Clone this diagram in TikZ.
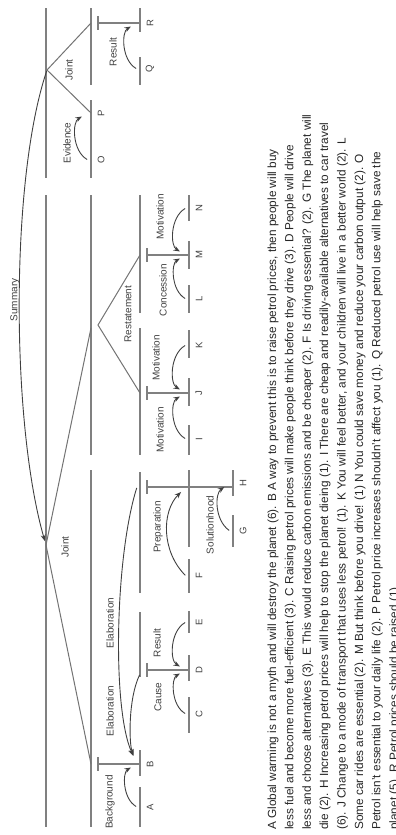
\documentclass[tikz,border=0pt]{standalone}
\usepackage{fontspec}
\setmainfont{Liberation Sans}
\usetikzlibrary{arrows.meta,calc}

\begin{document}
\begin{tikzpicture}[
			x=1pt,y=-1pt,
			spanline/.style={draw=black!50,line width=1.2pt},
			jointline/.style={draw=black!55,line width=1pt},
			relarc/.style={-{Stealth[length=6.5pt,width=5pt]},draw=black!75,line width=.9pt,shorten >=7pt,shorten <=1pt},
			rellabel/.style={rotate=90,inner sep=0pt,text=black!75,font=\fontsize{10}{10}\selectfont},
			leaflabel/.style={rotate=90,inner sep=0pt,text=black!75,font=\fontsize{9.5}{10}\selectfont},
			parline/.style={rotate=90,anchor=base west,inner sep=0pt,text=black!85,font=\fontsize{11.8}{14}\selectfont}
			]
			
			\useasboundingbox (0,0) rectangle (396,835);
			
			%------------------------------
			% Span lines
			%------------------------------
			\foreach \lx/\ya/\yb in {46/8/178, 46/195/827, 91/8/85, 91/195/455, 91/470/827,
				140/195/313, 140/328/455, 140/472/593, 140/612/677, 189/470/547}{
				\draw[spanline] (\lx,\ya) -- (\lx,\yb);
			}
			
			% Leaves: level / from / to / label / name
			\foreach \lx/\ya/\yb/\yl/\nm in {140/8/32/23/R, 140/57/85/69/Q, 91/100/137/113/P, 91/137/178/160/O,
				189/195/221/208/N, 189/241/269/255/M, 189/285/313/299/L, 189/330/358/345/K,
				189/378/406/393/J, 189/425/455/439/I, 233/470/496/483/H, 233/515/547/531/G,
				189/559/593/576/F, 189/611/633/622/E, 189/655/681/670/D, 189/697/733/714/C,
				140/750/776/764/B, 140/787/827/807/A}{
				\draw[spanline] (\lx,\ya) -- (\lx,\yb);
				\node[leaflabel] (leaf\nm) at (\lx+10,\yl) {\nm};
				\coordinate (p\nm) at (\lx-3,\yl);
			}
			
			% Nucleus markers
			\foreach \bx/\ex/\yy in {98/140/23, 98/140/764, 147/189/255, 147/189/393, 147/233/487, 147/189/670}{
				\draw[spanline] (\bx,\yy-7) -- (\bx,\yy+7);
				\draw[spanline] (\bx,\yy) -- (\ex,\yy);
			}
			
			%------------------------------
			% Multinuclear relations
			%------------------------------
			\coordinate (jointR) at (47,70);
			\coordinate (jointL) at (46,545);
			\coordinate (restate) at (98,325);
			\coordinate (nucR) at (91,23);
			\coordinate (nucP) at (91,113);
			\coordinate (nucIN) at (91,328);
			\coordinate (nucB) at (91,764);
			\coordinate (nucM) at (140,255);
			\coordinate (nucJ) at (140,393);
			
			\draw[jointline] (nucR) -- (jointR) -- (nucP);
			\draw[jointline] (nucIN) -- (jointL) -- (nucB);
			\draw[jointline] (nucM) -- (restate) -- (nucJ);
			
			%------------------------------
			% Satellite arcs
			%------------------------------
			\coordinate (pGH) at (186,487);
			\coordinate (topCE) at (140,674);
			\coordinate (topFH) at (137,487);
			
			\foreach \s/\n/\b in {Q/R/60, O/P/60, N/M/-60, L/M/60, K/J/-60, I/J/60, G/H/55, E/D/-60, C/D/60, A/B/60}{
				\draw[relarc] (p\s) to[bend left=\b] (p\n);
			}
			\draw[relarc] (pF) to[bend left=45] (pGH);
			\draw[relarc,shorten >=9pt] (topCE) .. controls +(-12,25) and +(-8,-20) .. (pB);
			\draw[relarc,shorten >=9pt] (topFH) .. controls +(-22,70) and +(-25,-55) .. (pB);
			\draw[relarc,shorten >=4pt] (jointR) .. controls +(-37,110) and +(-35,-122) .. (jointL);
			
			%------------------------------
			% Relation names
			%------------------------------
			\foreach \lx/\ly/\txt [count=\k] in {15/300/Summary, 69/70/Joint, 67/143/Evidence, 113/52/Result,
				160/217/Motivation, 163/290/Concession, 128/314/Restatement, 156/358/Motivation,
				160/430/Motivation, 158/527/Preparation, 210/525/Solutionhood, 65/547/Joint,
				110/623/Elaboration, 110/711/Elaboration, 110/802/Background, 158/697/Cause, 157/643/Result}{
				\node[rellabel] (rel\k) at (\lx,\ly) {\txt};
			}
			
			%------------------------------
			% Segment text
			%------------------------------
			\foreach \txt [count=\i] in {
				{A Global warming is not a myth and will destroy the planet (6). B A way to prevent this is to raise petrol prices, then people will buy},
				{less fuel and become more fuel-efficient (3). C Raising petrol prices will make people think before they drive (3). D People will drive},
				{less and choose alternatives (3). E This would reduce carbon emissions and be cheaper (2). F Is driving essential? (2). G The planet will},
				{die (2). H Increasing petrol prices will help to stop the planet dieing (1). I There are cheap and readily-available alternatives to car travel},
				{(6). J Change to a mode of transport that uses less petrol! (1). K You will feel better, and your children will live in a better world (2). L},
				{Some car rides are essential (2). M But think before you drive! (1) N You could save money and reduce your carbon output (2). O},
				{Petrol isn't essential to your daily life (2). P Petrol price increases shouldn't affect you (1). Q Reduced petrol use will help save the},
				{planet (5). R Petrol prices should be raised (1).}}{
				\node[parline] (line\i) at ({276+(\i-1)*17.4},830) {\txt};
			}
		\end{tikzpicture}
\end{document}
